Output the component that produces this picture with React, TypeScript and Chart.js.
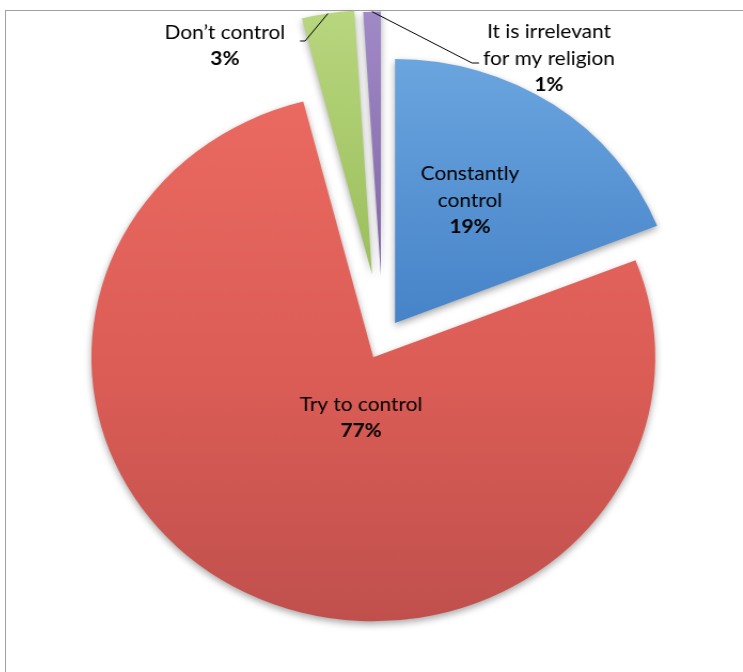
import React, { useEffect, useRef } from "react";
import { Chart, registerables } from "chart.js";

Chart.register(...registerables);

// ---- data ----
const categories = [
  "Constantly control",
  "Try to control",
  "Don’t control",
  "It is irrelevant for my religion",
];
const labelLines = [
  ["Constantly", "control"],
  ["Try to control"],
  ["Don’t control"],
  ["It is irrelevant", "for my religion"],
];
const values = [19, 77, 3, 1];
const percentLabels = ["19%", "77%", "3%", "1%"];

// ---- styles / layout ----
const W = 743;
const H = 672;
const STRETCH = 1.068; // picture is horizontally stretched
const ORIGIN_X = 383;
const PIE_RADIUS = 264;
const explode = [20, 20, 66, 64];
const flatColors = ["#5b95d3", "#dc5e57", "#a7c86a", "#8a6db0"];
const gradientStops: [number, string][][] = [
  [[0.09, "#6aa5df"], [0.48, "#4683c8"]],
  [[0.15, "#ea6a61"], [0.55, "#dc5d56"], [0.93, "#c0504d"]],
  [[0.02, "#b8d67e"], [0.4, "#9cbf5c"]],
  [[0.02, "#a08ac6"], [0.4, "#8266a8"]],
];
const FONT_SIZE = 19.5;
const FONT_FAMILY = "Lato, 'Open Sans', sans-serif";
const LINE_H = 26.5;
const CAP = 14;
type Layout =
  | { type: "inside"; dAngle: number; k: number }
  | { type: "outside"; x: number; y: number; leader: [number, number][] };
const labelLayout: Layout[] = [
  { type: "inside", dAngle: -4.5, k: 0.537 },
  { type: "inside", dAngle: -16.1, k: 0.23 },
  { type: "outside", x: 235, y: 45, leader: [[310, 41], [305.3, 41]] },
  { type: "outside", x: 538.4, y: 57.5, leader: [[466.3, 63], [472.9, 63]] },
];

export default function App() {
  const ref = useRef<HTMLCanvasElement>(null);

  useEffect(() => {
    const canvas = ref.current!;
    const piePlugin = {
      id: "pieExtras",
      afterDatasetUpdate(chart: any, args: any) {
        const meta = chart.getDatasetMeta(args.index);
        meta.data.forEach((arc: any, i: number) => {
          const mid = (arc.startAngle + arc.endAngle) / 2;
          arc.x += Math.cos(mid) * explode[i];
          arc.y += Math.sin(mid) * explode[i];
        });
      },
      beforeDatasetsDraw(chart: any) {
        const ctx = chart.ctx;
        ctx.save();
        ctx.shadowColor = "rgba(0,0,0,0.35)";
        ctx.shadowBlur = 7;
        ctx.shadowOffsetY = 3;
      },
      afterDatasetsDraw(chart: any) {
        const ctx = chart.ctx;
        ctx.restore();
        const meta = chart.getDatasetMeta(0);
        ctx.save();
        ctx.fillStyle = "#000";
        ctx.strokeStyle = "#000";
        ctx.lineWidth = 1;
        ctx.textAlign = "center";
        ctx.textBaseline = "alphabetic";
        meta.data.forEach((arc: any, i: number) => {
          const L = labelLayout[i];
          const lines = [...labelLines[i], percentLabels[i]];
          let cx: number;
          let cy: number;
          if (L.type === "inside") {
            const a = (arc.startAngle + arc.endAngle) / 2 + (L.dAngle * Math.PI) / 180;
            const r = L.k * arc.outerRadius;
            cx = arc.x + Math.cos(a) * r;
            cy = arc.y + Math.sin(a) * r;
          } else {
            cx = L.x;
            cy = L.y;
            const mid = (arc.startAngle + arc.endAngle) / 2;
            ctx.beginPath();
            ctx.moveTo(arc.x + Math.cos(mid) * arc.outerRadius, arc.y + Math.sin(mid) * arc.outerRadius);
            L.leader.forEach(([x, y]) => ctx.lineTo(x, y));
            ctx.stroke();
          }
          const top = cy - ((lines.length - 1) * LINE_H) / 2;
          lines.forEach((t, j) => {
            const bold = j === lines.length - 1;
            ctx.font = `${bold ? "bold " : ""}${FONT_SIZE}px ${FONT_FAMILY}`;
            ctx.fillText(t, cx, top + j * LINE_H + CAP / 2);
          });
        });
        ctx.restore();
      },
    };

    const chart = new Chart(canvas, {
      type: "pie",
      data: {
        labels: categories,
        datasets: [
          {
            data: values,
            radius: PIE_RADIUS,
            borderWidth: 0,
            clip: false,
            backgroundColor: (c: any) => {
              const i = c.dataIndex ?? 0;
              const chartObj = c.chart;
              if (!chartObj.chartArea) return flatColors[i];
              const g = chartObj.ctx.createLinearGradient(0, 0, 0, H);
              gradientStops[i].forEach(([p, col]) => g.addColorStop(p, col));
              return g;
            },
          } as any,
        ],
      },
      options: {
        responsive: false,
        animation: false,
        layout: { padding: { left: 23, right: 0, top: 7, bottom: 0 } },
        plugins: { legend: { display: false }, tooltip: { enabled: false } },
      },
      plugins: [piePlugin],
    });
    return () => chart.destroy();
  }, []);

  return (
    <div
      style={{
        position: "fixed",
        left: 0,
        top: 0,
        width: W,
        height: H,
        overflow: "hidden",
        background: "#fff",
      }}
    >
      <div
        style={{
          position: "absolute",
          left: 5,
          top: 10,
          width: W + 20,
          height: H + 20,
          borderTop: "1.5px solid #a0a0a0",
          borderLeft: "1.5px solid #a0a0a0",
        }}
      />
      <div
        style={{
          position: "absolute",
          left: 0,
          top: 0,
          width: W,
          height: H,
          transform: `scaleX(${STRETCH})`,
          transformOrigin: `${ORIGIN_X}px 0px`,
        }}
      >
        <canvas ref={ref} width={W} height={H} style={{ display: "block" }} />
      </div>
    </div>
  );
}
